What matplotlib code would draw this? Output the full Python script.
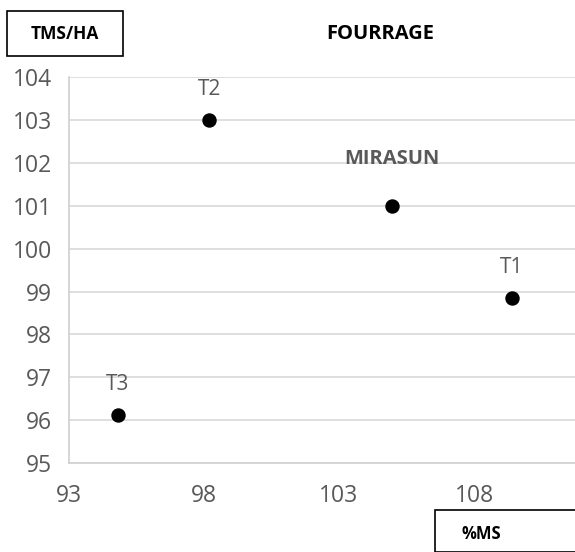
import matplotlib.pyplot as plt
from matplotlib.patches import Rectangle

# data
names = ["T2", "MIRASUN", "T1", "T3"]
ms_pct = [98.2, 104.95, 109.4, 94.8]
tms_ha = [103.0, 101.0, 98.85, 96.12]
x_ticks = [93, 98, 103, 108]
y_ticks = [95, 96, 97, 98, 99, 100, 101, 102, 103, 104]

plt.rcParams['font.family'] = ['Open Sans', 'DejaVu Sans']
grey = "#595959"

fig = plt.figure(figsize=(5.75, 5.52), dpi=100)
ax = fig.add_axes([0.12, 0.161, 0.88, 0.6995])

ax.scatter(ms_pct, tms_ha, s=88, color="black", zorder=3)

# point labels
for n, x, y in zip(names, ms_pct, tms_ha):
    if n == "MIRASUN":
        ax.annotate(n, (x, y), xytext=(0, 30), textcoords="offset points",
                    ha="center", va="baseline", fontsize=14.5, fontweight="bold", color=grey)
    else:
        ax.annotate(n, (x, y), xytext=(0, 18), textcoords="offset points",
                    ha="center", va="baseline", fontsize=15, color=grey)

ax.set_xlim(93, 111.74)
ax.set_ylim(95, 104)
ax.set_xticks(x_ticks)
ax.set_yticks(y_ticks)
ax.tick_params(length=0, labelsize=16.5, labelcolor=grey)
ax.tick_params(axis="y", pad=12)
ax.tick_params(axis="x", pad=15)

ax.grid(axis="y", color="#d9d9d9", linewidth=1.2)
ax.set_axisbelow(True)
for s in ["top", "right"]:
    ax.spines[s].set_visible(False)
for s in ["left", "bottom"]:
    ax.spines[s].set_color("#d0d0d0")
    ax.spines[s].set_linewidth(1.2)

fig.text(380 / 575, 1 - 34 / 552, "FOURRAGE", ha="center", va="center",
         fontsize=14.5, fontweight="bold", color="black")

# axis title boxes
fig.add_artist(Rectangle((7 / 575, 1 - 56 / 552), 116 / 575, 45 / 552,
                         transform=fig.transFigure, fill=False, edgecolor="black", linewidth=1.2))
fig.text(65 / 575, 1 - 34 / 552, "TMS/HA", ha="center", va="center",
         fontsize=12.5, fontweight="bold")
fig.add_artist(Rectangle((435 / 575, 0.0), 145 / 575, 42 / 552,
                         transform=fig.transFigure, fill=False, edgecolor="black", linewidth=1.2))
fig.text(481 / 575, 1 - 534 / 552, "%MS", ha="center", va="center",
         fontsize=12, fontweight="bold")

fig.savefig("out.png", dpi=100)
